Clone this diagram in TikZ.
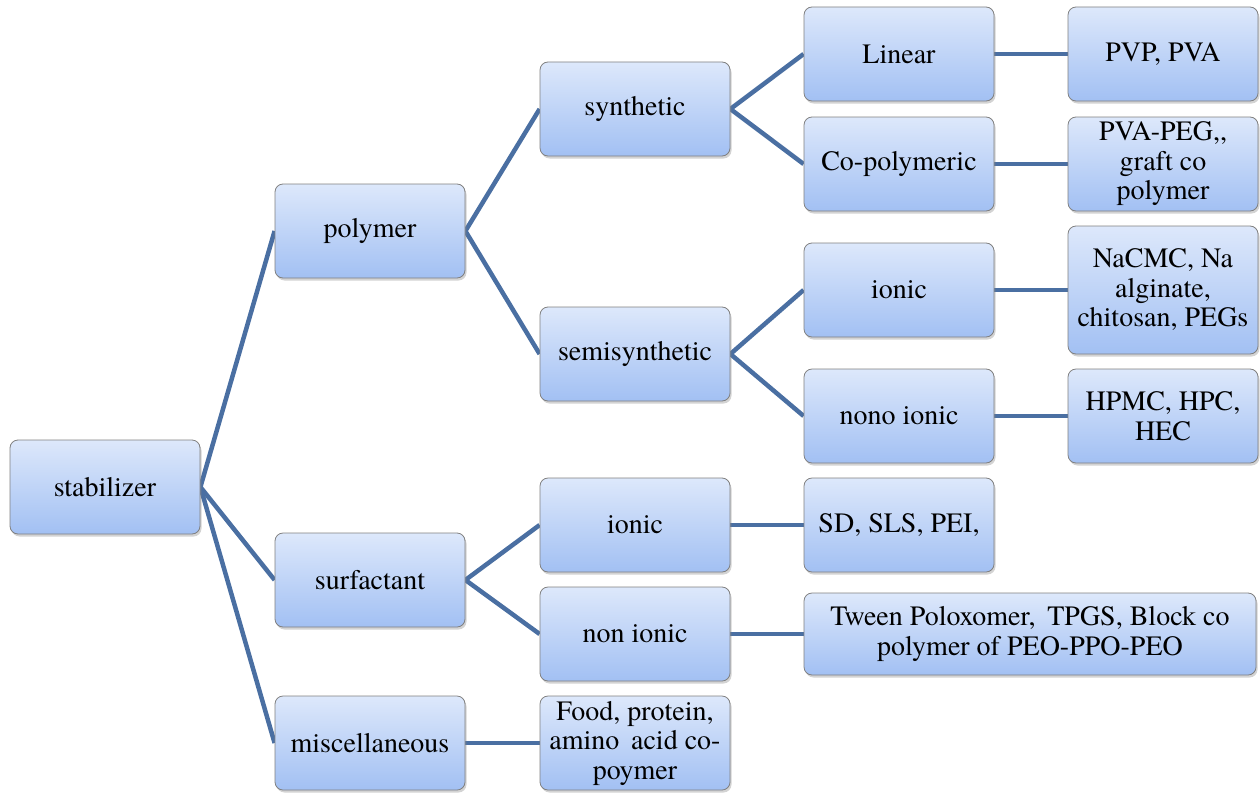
\documentclass[tikz,border=0pt]{standalone}
\usepackage{fontspec}
\IfFontExistsTF{texgyretermes-regular.otf}
  {\newfontfamily\boxface{texgyretermes-regular.otf}}
  {\newfontfamily\boxface{Liberation Serif}}
\usetikzlibrary{shadows,backgrounds}
\definecolor{boxtop}{HTML}{DDE8FB}
\definecolor{boxbottom}{HTML}{A2C0F3}
\definecolor{boxedge}{HTML}{808080}
\definecolor{link}{HTML}{4A6FA2}
\tikzset{
  catbox/.style={rectangle, rounded corners=8pt, draw=boxedge, line width=0.8pt,
    top color=boxtop, bottom color=boxbottom,
    minimum width=190pt, minimum height=94pt, inner sep=2pt,
    align=center, font=\boxface\fontsize{28}{29.5}\selectfont,
    drop shadow={opacity=0.35, shadow xshift=1.5pt, shadow yshift=-2.5pt}},
  branch/.style={draw=link, line width=4.5pt}
}
\begin{document}
\begin{tikzpicture}[x=1pt,y=-1pt]
\useasboundingbox (0,0) rectangle (1260,792);
% root
\node[catbox] (stab) at (105,487) {stabilizer};
% first level
\node[catbox] (poly) at (370,231) {polymer};
\node[catbox] (surf) at (370,580) {surfactant};
\node[catbox] (misc) at (370,743) {miscellaneous};
% second level
\node[catbox] (syn) at (635,109) {synthetic};
\node[catbox] (semi) at (635,354) {semisynthetic};
\node[catbox] (sion) at (635,525) {ionic};
\node[catbox] (snon) at (635,634) {non ionic};
\node[catbox] (food) at (635,743) {Food, protein,\\amino\, acid co-\\poymer};
% third level
\node[catbox] (lin) at (899,54) {Linear};
\node[catbox] (copo) at (899,164) {Co-polymeric};
\node[catbox] (pion) at (899,290) {ionic};
\node[catbox] (pnon) at (899,416) {nono ionic};
\node[catbox] (sds) at (899,525) {SD, SLS, PEI,};
\node[catbox, minimum width=452pt, minimum height=82pt] (tween) at (1030,634) {Tween Poloxomer,\, TPGS, Block co\\polymer of PEO-PPO-PEO};
% fourth level
\node[catbox] (pvp) at (1163,54) {PVP, PVA};
\node[catbox] (peg) at (1163,164) {PVA-PEG,,\\graft co\\polymer};
\node[catbox, minimum height=128pt] (cmc) at (1163,290) {NaCMC, Na\\alginate,\\chitosan, PEGs};
\node[catbox] (hpmc) at (1163,416) {HPMC, HPC,\\HEC};
% connectors
\begin{scope}[on background layer]
\foreach \a/\b in {stab/poly, stab/surf, stab/misc,
                   poly/syn, poly/semi, surf/sion, surf/snon, misc/food,
                   syn/lin, syn/copo, semi/pion, semi/pnon, sion/sds, snon/tween,
                   lin/pvp, copo/peg, pion/cmc, pnon/hpmc}
  \draw[branch] (\a.east) -- (\b.west);
\end{scope}
\end{tikzpicture}
\end{document}
